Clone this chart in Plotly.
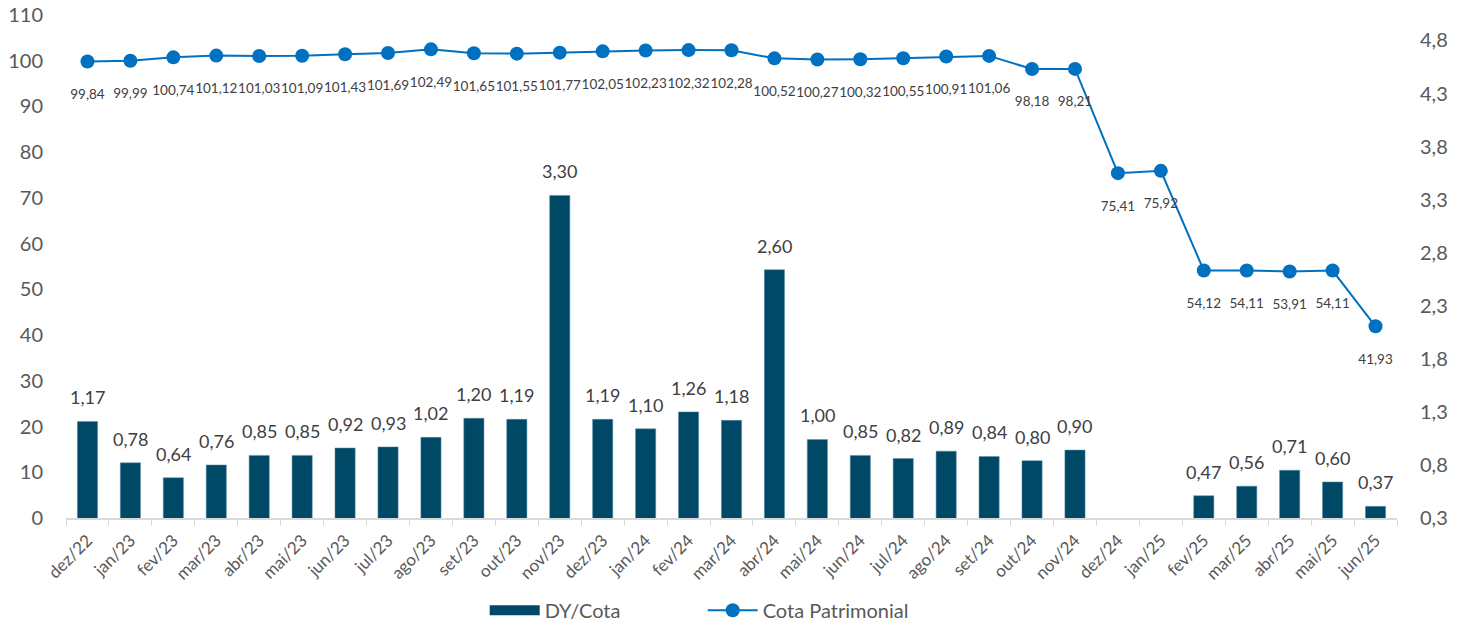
import plotly.graph_objects as go

categories = ["dez/22", "jan/23", "fev/23", "mar/23", "abr/23", "mai/23", "jun/23", "jul/23",
              "ago/23", "set/23", "out/23", "nov/23", "dez/23", "jan/24", "fev/24", "mar/24",
              "abr/24", "mai/24", "jun/24", "jul/24", "ago/24", "set/24", "out/24", "nov/24",
              "dez/24", "jan/25", "fev/25", "mar/25", "abr/25", "mai/25", "jun/25"]

dy_cota = [1.17, 0.78, 0.64, 0.76, 0.85, 0.85, 0.92, 0.93, 1.02, 1.20, 1.19, 3.30,
           1.19, 1.10, 1.26, 1.18, 2.60, 1.00, 0.85, 0.82, 0.89, 0.84, 0.80, 0.90,
           0.0, 0.0, 0.47, 0.56, 0.71, 0.60, 0.37]

cota_patrimonial = [99.84, 99.99, 100.74, 101.12, 101.03, 101.09, 101.43, 101.69, 102.49,
                    101.65, 101.55, 101.77, 102.05, 102.23, 102.32, 102.28, 100.52, 100.27,
                    100.32, 100.55, 100.91, 101.06, 98.18, 98.21, 75.41, 75.92, 54.12,
                    54.11, 53.91, 54.11, 41.93]

left_ticks = list(range(0, 111, 10))
# right axis: ticks every 0.5 starting at the axis minimum, shown with one decimal
right_min = 0.26
right_max = 5.0
right_ticks = [right_min + 0.5 * k for k in range(10)]
right_ticktext = [f"{v:.1f}".replace(".", ",") for v in right_ticks]


def br(v):
    return f"{v:.2f}".replace(".", ",")


line_text = ["<br>" + br(v) for v in cota_patrimonial]

FONT = "Lato, 'Open Sans', sans-serif"
GRAY = "#595959"
BAR = "#004966"
LINE = "#0070C0"

fig = go.Figure()
fig.add_trace(go.Bar(
    x=categories, y=dy_cota, name="DY/Cota", yaxis="y", showlegend=False,
    marker=dict(color=BAR, line=dict(color="#5b8fa8", width=0.5)),
))
# legend entry for the bars (wide rectangle like the original)
fig.add_trace(go.Scatter(
    x=[None], y=[None], name="DY/Cota", yaxis="y", mode="lines",
    line=dict(color=BAR, width=14),
))
fig.add_trace(go.Scatter(
    x=categories, y=cota_patrimonial, name="Cota Patrimonial", yaxis="y2",
    mode="lines+markers+text",
    line=dict(color=LINE, width=2),
    marker=dict(color=LINE, size=14),
    text=line_text, textposition="bottom center", cliponaxis=False,
    textfont=dict(size=13.5, color="#404040", family=FONT),
))

# bar value labels
for c, v in zip(categories, dy_cota):
    if v > 0:
        fig.add_annotation(x=c, y=v, xref="x", yref="y", text=br(v), showarrow=False,
                           yanchor="middle", yshift=24,
                           font=dict(size=18, color="#404040", family=FONT))

fig.update_layout(
    width=1467, height=624,
    margin=dict(l=66, r=70, t=15, b=106),
    paper_bgcolor="white", plot_bgcolor="white",
    font=dict(family=FONT, color=GRAY),
    bargap=0.53,
    showlegend=True,
    legend=dict(orientation="h", x=0.479, xanchor="center", xref="container",
                y=0.022, yanchor="middle", yref="container",
                font=dict(size=20, color=GRAY), traceorder="normal", itemwidth=50,
                entrywidth=153),
    xaxis=dict(
        type="category", range=[-0.5, len(categories) - 0.5], automargin=False,
        tickangle=-45, tickfont=dict(size=17, color=GRAY), ticklabelstandoff=4,
        showline=True, linecolor="#d9d9d9", linewidth=1.5,
        ticks="outside", tickson="boundaries", ticklen=6, tickcolor="#d9d9d9",
        showgrid=False,
    ),
    yaxis=dict(
        side="right", range=[right_min, right_max], tickvals=right_ticks, automargin=False,
        ticktext=right_ticktext,
        tickfont=dict(size=20, color=GRAY), showgrid=False, zeroline=False,
        ticklabelstandoff=22,
    ),
    yaxis2=dict(
        side="left", overlaying="y", range=[0, 110], tickvals=left_ticks, automargin=False,
        tickfont=dict(size=20, color=GRAY), showgrid=False, zeroline=False,
        ticklabelstandoff=22,
    ),
)

fig.write_html("out.html")
